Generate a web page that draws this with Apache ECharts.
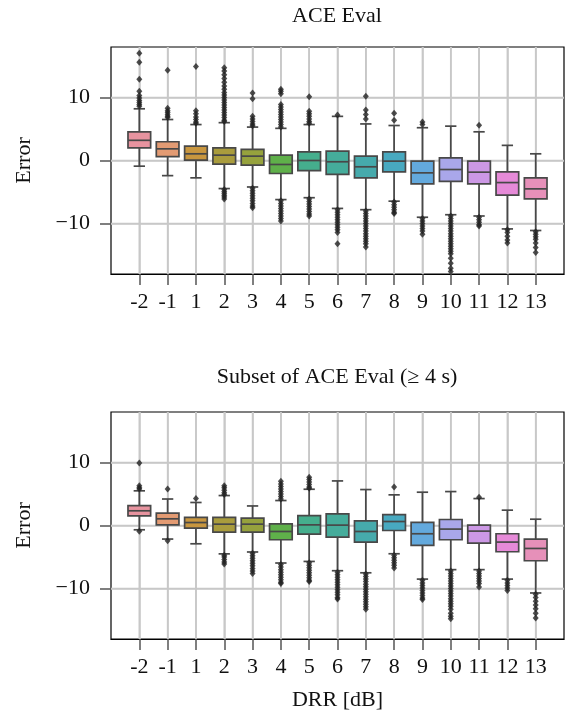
<!DOCTYPE html>
<html>
<head>
<meta charset="utf-8">
<script src="https://cdn.jsdelivr.net/npm/echarts@6/dist/echarts.min.js"></script>
<style>
  html, body { margin: 0; padding: 0; background: #fff; }
  #chart { width: 567px; height: 713px; }
</style>
</head>
<body>
<div id="chart"></div>
<script>
// DRR bins
var categories = ['-2', '-1', '1', '2', '3', '4', '5', '6', '7', '8', '9', '10', '11', '12', '13'];

// box stats: [lower whisker, q1, median, q3, upper whisker]
var aceStats = [
  [-0.9, 2.0, 3.2, 4.55, 8.2],
  [-2.4, 0.63, 1.85, 2.97, 6.5],
  [-2.75, 0.05, 1.06, 2.27, 5.7],
  [-4.45, -0.58, 0.85, 2.0, 6.0],
  [-4.2, -0.74, 0.69, 1.75, 5.3],
  [-6.2, -2.06, -0.63, 0.85, 5.1],
  [-5.9, -1.59, 0.0, 1.37, 5.7],
  [-7.6, -2.2, -0.2, 1.48, 7.0],
  [-7.8, -2.75, -1.0, 0.69, 5.8],
  [-6.45, -1.8, -0.1, 1.37, 5.55],
  [-9.0, -3.7, -1.96, -0.1, 5.2],
  [-8.6, -3.3, -1.43, 0.42, 5.45],
  [-8.8, -3.7, -1.85, -0.1, 4.55],
  [-10.85, -5.5, -3.5, -1.8, 2.4],
  [-11.1, -6.1, -4.5, -2.75, 1.06]
];

var aceOutliers = [
  [17.0, 15.6, 12.9, 11.0, 10.3, 9.9, 9.5, 9.2, 8.9, 8.6],
  [14.3, 8.3, 7.9, 7.6, 7.3, 7.0, 6.8],
  [14.9, 7.9, 7.4, 6.9, 6.5, 6.1, 5.9],
  [14.7, 14.2, 13.6, 13.0, 12.4, 11.8, 11.3, 10.8, 10.4, 10.0, 9.6, 9.2, 8.8, 8.4, 8.0, 7.6, 7.2, 6.8, 6.4, 6.2,
   -4.6, -4.9, -5.2, -5.5, -5.8, -6.1],
  [10.7, 9.8, 7.0, 6.6, 6.2, 5.8, 5.5, -4.4, -4.8, -5.2, -5.6, -6.0, -6.4, -6.8, -7.2, -7.5],
  [11.3, 11.0, 10.6, 8.9, 8.5, 8.1, 7.7, 7.3, 6.9, 6.5, 6.1, 5.7, 5.3,
   -6.4, -6.8, -7.2, -7.6, -8.0, -8.4, -8.8, -9.2, -9.6],
  [10.1, 7.8, 7.4, 7.0, 6.6, 6.2, 5.9, -6.1, -6.5, -6.9, -7.3, -7.7, -8.1, -8.5, -8.8],
  [7.2, -7.8, -8.2, -8.6, -9.0, -9.4, -9.8, -10.2, -10.6, -11.0, -11.4, -13.2],
  [10.2, 8.0, 7.3, 6.6, -8.0, -8.4, -8.8, -9.2, -9.6, -10.0, -10.4, -10.8, -11.2, -11.6, -12.0, -12.4, -12.8, -13.2, -13.7],
  [7.5, 6.4, -6.6, -7.0, -7.4, -7.8, -8.2, -8.4],
  [6.1, 5.7, -9.2, -9.6, -10.0, -10.4, -10.8, -11.2, -11.7],
  [-8.8, -9.2, -9.6, -10.0, -10.4, -10.8, -11.2, -11.6, -12.0, -12.4, -12.8, -13.2, -13.6, -14.0, -14.4, -14.8,
   -15.5, -16.3, -17.1, -17.6],
  [5.6, -9.0, -9.4, -9.8, -10.2, -10.4],
  [-11.0, -11.4, -12.0, -12.6, -13.1],
  [-11.3, -11.7, -12.1, -12.5, -13.1, -13.8, -14.6]
];

var subsetStats = [
  [-0.68, 1.53, 2.33, 3.16, 5.5],
  [-2.15, 0.1, 1.06, 1.96, 4.2],
  [-2.9, -0.42, 0.47, 1.3, 3.65],
  [-4.5, -1.05, 0.21, 1.3, 4.75],
  [-4.2, -1.05, 0.21, 1.17, 3.1],
  [-5.95, -2.26, -0.95, 0.27, 3.96],
  [-5.7, -1.36, 0.1, 1.58, 5.75],
  [-7.17, -1.84, 0.06, 1.85, 7.07],
  [-7.5, -2.63, -0.95, 0.74, 5.7],
  [-4.48, -0.79, 0.63, 1.74, 4.86],
  [-8.5, -3.16, -1.31, 0.48, 5.28],
  [-7.0, -2.26, -0.57, 0.95, 5.38],
  [-7.0, -2.79, -0.89, 0.06, 4.27],
  [-8.5, -4.16, -2.63, -1.31, 2.43],
  [-10.7, -5.59, -3.64, -2.15, 1.0]
];

var subsetOutliers = [
  [9.9, 6.3, 6.0, 5.8, -0.9],
  [5.8, -2.4],
  [4.3],
  [6.3, 6.0, 5.6, 5.2, 4.9, -4.7, -5.0, -5.4, -5.8, -6.1],
  [-4.4, -4.8, -5.2, -5.6, -6.0, -6.4, -6.8, -7.2, -7.6],
  [7.0, 6.6, 6.2, 5.8, 5.4, 5.0, 4.6, 4.2, -6.2, -6.6, -7.0, -7.4, -7.8, -8.2, -8.6, -9.0, -9.2],
  [7.65, 7.3, 6.9, 6.5, 6.1, 5.9, -5.9, -6.3, -6.7, -7.1, -7.5, -7.9, -8.3, -8.7, -8.9],
  [-7.4, -7.8, -8.2, -8.6, -9.0, -9.4, -9.8, -10.2, -10.6, -11.0, -11.4, -11.65],
  [-7.7, -8.1, -8.5, -8.9, -9.3, -9.7, -10.1, -10.5, -10.9, -11.3, -11.7, -12.1, -12.5, -12.9, -13.3],
  [6.12, -4.7, -5.1, -5.5, -5.9, -6.3, -6.75],
  [-8.7, -9.1, -9.5, -9.9, -10.3, -10.7, -11.1, -11.5, -11.75],
  [-7.2, -7.6, -8.0, -8.4, -8.8, -9.2, -9.6, -10.0, -10.4, -10.8, -11.2, -11.6, -12.0, -12.4, -12.8, -13.3, -13.9, -14.4, -14.8],
  [4.49, -7.2, -7.6, -8.0, -8.4, -8.8, -9.2, -9.75],
  [-8.7, -9.1, -9.5, -9.9, -10.3],
  [-10.9, -11.4, -12.0, -12.6, -13.2, -13.9, -14.65]
];

var yTicks = [-10, 0, 10];
var yMin = -18, yMax = 18;

var palette = ['#e7939f', '#e39b73', '#c8963f', '#a99c3d', '#96a23d', '#5fb04a', '#45ae8d', '#45ac9b',
  '#46aaac', '#48a9c0', '#63a9dd', '#a9a7ea', '#cc98e5', '#e68ad8', '#e690b9'];

var FONT = '"Liberation Serif", "DejaVu Serif", serif';
var GRID_COLOR = '#c8c8c8';
// one empty slot at each end so the boxes sit one step in from the frame
var xData = [''].concat(categories, [' ']);
function inner(idx) { return idx > 0 && idx < xData.length - 1; }

function boxData(stats) {
  return stats.map(function (s, i) {
    return { value: [i + 1].concat(s), itemStyle: { color: palette[i] } };
  });
}
function outlierData(outs) {
  var res = [];
  outs.forEach(function (arr, i) {
    arr.forEach(function (v) { res.push([i + 1, v]); });
  });
  return res;
}

function renderBox(params, api) {
  var x = api.value(0);
  var lo = api.coord([x, api.value(1)]);
  var q1 = api.coord([x, api.value(2)]);
  var md = api.coord([x, api.value(3)]);
  var q3 = api.coord([x, api.value(4)]);
  var hi = api.coord([x, api.value(5)]);
  var bw = api.size([1, 0])[0] * 0.8;
  var cw = bw / 2;
  var cx = lo[0];
  var st = { stroke: '#484848', lineWidth: 1.7 };
  var gs = { stroke: GRID_COLOR, lineWidth: 1.6 };
  var children = [];
  // grid lines, drawn underneath the boxes
  var top = api.coord([x, yMax]), bot = api.coord([x, yMin]);
  children.push({ type: 'line', shape: { x1: cx, y1: top[1], x2: cx, y2: bot[1] }, style: gs });
  if (params.dataIndex === 0) {
    yTicks.forEach(function (v) {
      var a = api.coord([0, v]), b = api.coord([xData.length - 1, v]);
      children.push({ type: 'line', shape: { x1: a[0], y1: a[1], x2: b[0], y2: b[1] }, style: gs });
    });
  }
  children.push(
    { type: 'line', shape: { x1: cx, y1: hi[1], x2: cx, y2: q3[1] }, style: st },
    { type: 'line', shape: { x1: cx, y1: q1[1], x2: cx, y2: lo[1] }, style: st },
    { type: 'line', shape: { x1: cx - cw / 2, y1: hi[1], x2: cx + cw / 2, y2: hi[1] }, style: st },
    { type: 'line', shape: { x1: cx - cw / 2, y1: lo[1], x2: cx + cw / 2, y2: lo[1] }, style: st },
    { type: 'rect', shape: { x: cx - bw / 2, y: q3[1], width: bw, height: q1[1] - q3[1] },
      style: { fill: api.visual('color'), stroke: '#484848', lineWidth: 1.7 } },
    { type: 'line', shape: { x1: cx - bw / 2, y1: md[1], x2: cx + bw / 2, y2: md[1] }, style: st }
  );
  return { type: 'group', children: children };
}

function makeX(g, withName) {
  var ax = {
    gridIndex: g,
    type: 'category',
    data: xData,
    boundaryGap: false,
    axisLine: { show: true, onZero: false, lineStyle: { color: '#000', width: 1.2 } },
    axisTick: { show: true, length: 11, interval: inner, lineStyle: { color: '#555', width: 1.5 } },
    axisLabel: { interval: inner, margin: 17, fontSize: 22, fontFamily: FONT, color: '#111' },
    splitLine: { show: true, interval: inner, lineStyle: { color: GRID_COLOR, width: 1.6 } }
  };
  if (withName) {
    ax.name = 'DRR [dB]';
    ax.nameLocation = 'middle';
    ax.nameGap = 50;
    ax.nameTextStyle = { fontSize: 22, fontFamily: FONT, color: '#111' };
  }
  return ax;
}

function makeY(g) {
  return {
    gridIndex: g,
    type: 'value',
    min: yMin,
    max: yMax,
    axisLine: { show: false },
    axisTick: { show: true, length: 11, customValues: yTicks, lineStyle: { color: '#555', width: 1.5 } },
    axisLabel: {
      customValues: yTicks,
      margin: 21, fontSize: 22, fontFamily: FONT, color: '#111',
      formatter: function (v) { return v < 0 ? '\u2212' + (-v) : String(v); }
    },
    splitLine: { show: true, lineStyle: { color: GRID_COLOR, width: 1.6 } },
    name: 'Error',
    nameLocation: 'middle',
    nameRotate: 90,
    nameGap: 76,
    nameTextStyle: { fontSize: 22, fontFamily: FONT, color: '#111' }
  };
}

var chart = echarts.init(document.getElementById('chart'));
chart.setOption({
  animation: false,
  title: [
    { text: 'ACE Eval', left: 337, top: 5, textAlign: 'center', padding: 0,
      textStyle: { fontFamily: FONT, fontSize: 22, fontWeight: 'normal', color: '#111' } },
    { text: 'Subset of ACE Eval (\u2265 4 s)', left: 337, top: 366, textAlign: 'center', padding: 0,
      textStyle: { fontFamily: FONT, fontSize: 22, fontWeight: 'normal', color: '#111' } }
  ],
  grid: [
    { left: 111, right: 3, top: 47, height: 227, show: true, borderColor: '#000', borderWidth: 1.2 },
    { left: 111, right: 3, top: 412, height: 227, show: true, borderColor: '#000', borderWidth: 1.2 }
  ],
  xAxis: [makeX(0, false), makeX(1, true)],
  yAxis: [makeY(0), makeY(1)],
  series: [
    { type: 'custom', xAxisIndex: 0, yAxisIndex: 0, renderItem: renderBox, clip: false,
      encode: { x: 0, y: [1, 2, 3, 4, 5] }, data: boxData(aceStats), z: 2 },
    { type: 'scatter', xAxisIndex: 0, yAxisIndex: 0, symbol: 'diamond', symbolSize: [6, 7],
      itemStyle: { color: '#222' }, data: outlierData(aceOutliers), z: 3 },
    { type: 'custom', xAxisIndex: 1, yAxisIndex: 1, renderItem: renderBox, clip: false,
      encode: { x: 0, y: [1, 2, 3, 4, 5] }, data: boxData(subsetStats), z: 2 },
    { type: 'scatter', xAxisIndex: 1, yAxisIndex: 1, symbol: 'diamond', symbolSize: [6, 7],
      itemStyle: { color: '#222' }, data: outlierData(subsetOutliers), z: 3 }
  ]
});
</script>
</body>
</html>
